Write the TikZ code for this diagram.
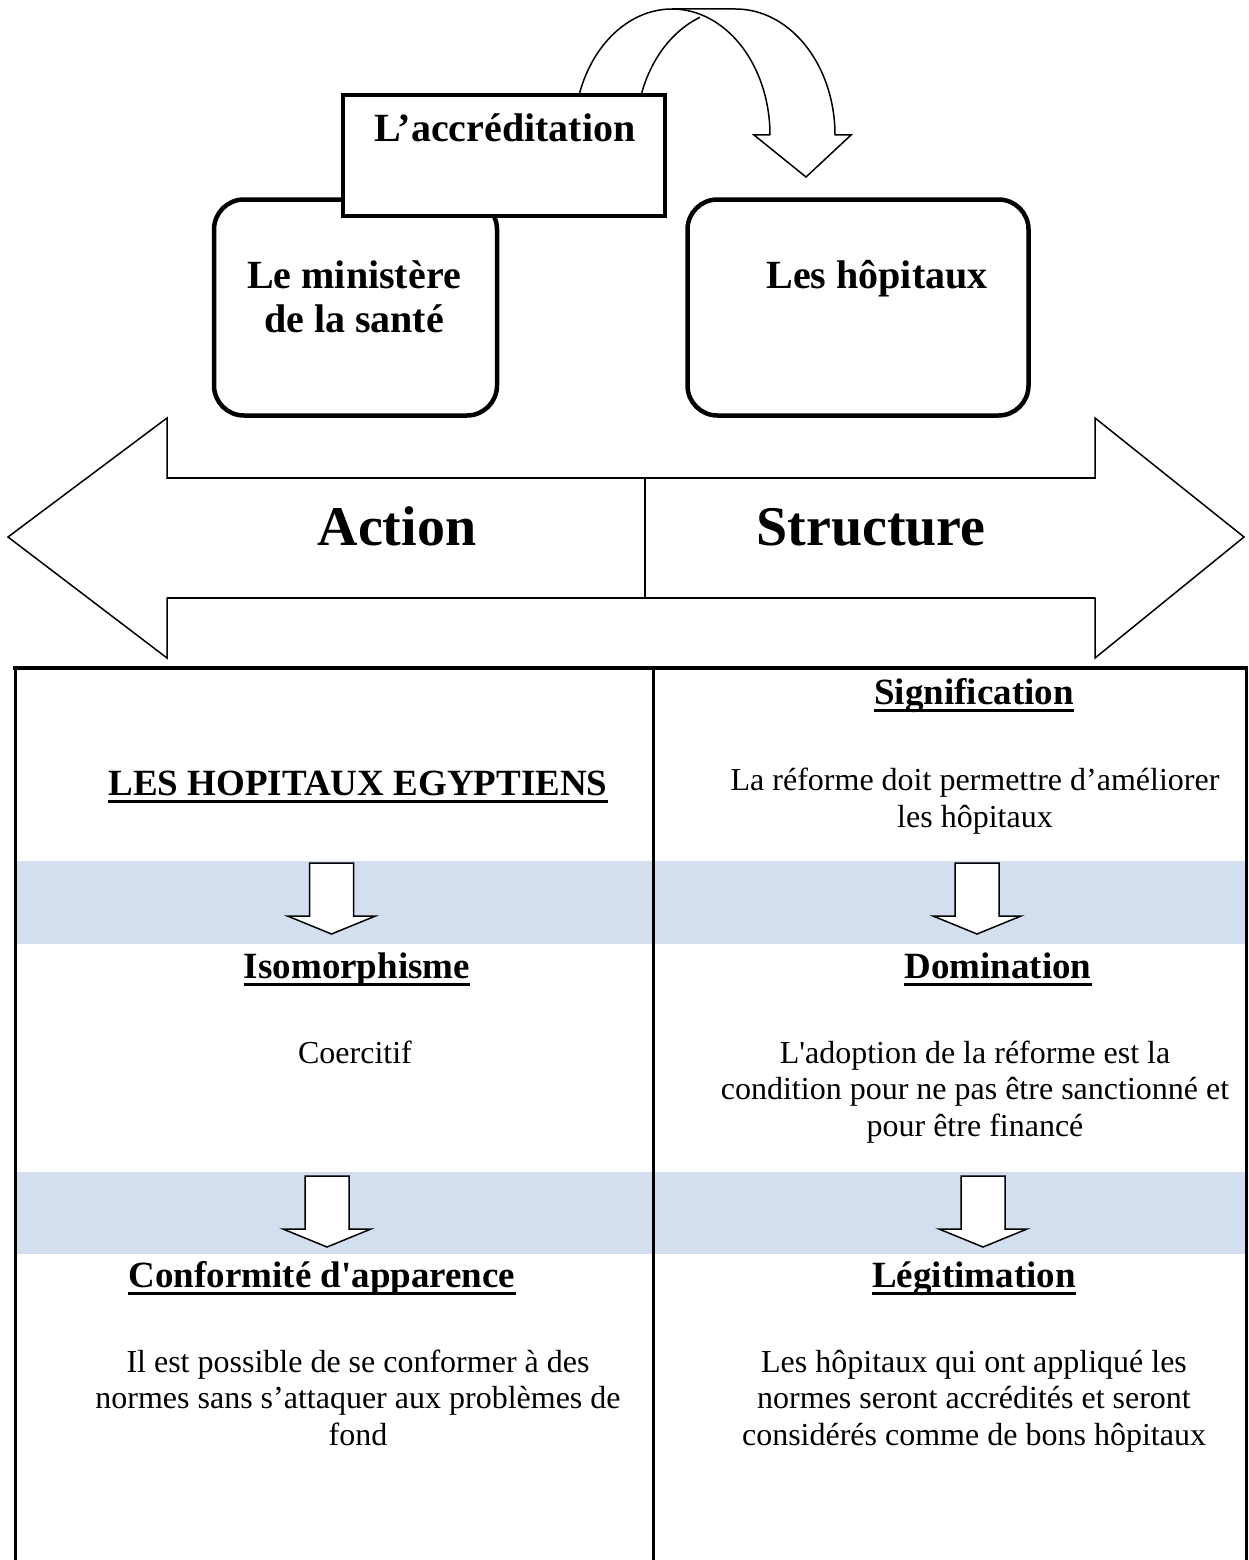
\documentclass[tikz,border=0pt]{standalone}
\usepackage{fontspec}
\setmainfont{Liberation Serif}
\definecolor{bandblue}{RGB}{211,223,238}
\newcommand\blockdown[2]{%
  \draw[blockarrow] (#1-22,#2) -- (#1+22,#2) -- (#1+22,#2+53) -- (#1+44,#2+53) -- (#1,#2+71) -- (#1-44,#2+53) -- (#1-22,#2+53) -- cycle;}
\begin{document}
\begin{tikzpicture}[x=1pt,y=-1pt,
  thinline/.style={line width=1.5pt},
  boxline/.style={line width=4.5pt},
  toplabel/.style={font=\fontsize{40}{44}\selectfont\bfseries, align=center, inner sep=0pt},
  biglabel/.style={font=\fontsize{56}{60}\selectfont\bfseries, inner sep=0pt},
  heading/.style={font=\fontsize{37}{42}\selectfont\bfseries, inner sep=0pt},
  bodytext/.style={font=\fontsize{32}{36.5}\selectfont, align=center, inner sep=0pt},
  blockarrow/.style={draw, fill=white, line width=1.5pt, line join=miter},
  ulined/.style={line width=3pt}
]
\useasboundingbox (0,0) rectangle (1248,1560);
\fill[white] (0,0) rectangle (1248,1560);

% curved arrow (behind the accreditation box)
\draw[thinline] plot[domain=16:180, samples=80] ({672-98*cos(\x)}, {135-126*sin(\x)});
\draw[thinline] plot[domain=16:69, samples=40] ({735.5-99.5*cos(\x)}, {135-126*sin(\x)});
\draw[thinline, line join=miter] (672,9) -- (735.5,9)
  -- plot[domain=90:180, samples=60] ({735.5-99.5*cos(\x)}, {135-126*sin(\x)})
  -- (851,135) -- (806,177) -- (754,135) -- (770,135);

% boxes
\node[draw, boxline, rounded corners=30pt, minimum width=283pt, minimum height=216pt] (minbox) at (355.5,307.5) {};
\node[draw, boxline, rounded corners=30pt, minimum width=341pt, minimum height=216pt] (hopbox) at (858,307.5) {};
\node[draw, line width=4pt, fill=white, minimum width=322pt, minimum height=121pt] (accbox) at (504,155.5) {};

\node[toplabel, anchor=base] (acctext) at (505,142) {L’accréditation};
\node[toplabel, anchor=base] (mintext) at (354,332) {Le ministère\\de la santé};
\node[toplabel, anchor=base] (hoptext) at (877,288) {Les hôpitaux};

% double arrow
\draw[thinline, fill=white, line join=miter] (8,537) -- (167,418) -- (167,478) -- (1095,478) -- (1095,418) -- (1244,537)
  -- (1095,658) -- (1095,598) -- (167,598) -- (167,658) -- cycle;
\draw[line width=2pt] (167,478) -- (1095,478);
\draw[line width=2pt] (167,598) -- (1095,598);
\coordinate (divtop) at (645,478);
\coordinate (divbot) at (645,598);
\draw[thinline] (divtop) -- (divbot);
\node[biglabel, anchor=base] (action) at (397,545) {Action};
\node[biglabel, anchor=base] (structure) at (871,545) {Structure};

% table
\fill[bandblue] (15,861) rectangle (1246,944);
\fill[bandblue] (15,1172) rectangle (1246,1254);
\draw[line width=4pt] (13,668) -- (1247.5,668);
\draw[line width=3pt] (15,666) -- (15,1562);
\draw[line width=3pt] (653,668) -- (653,1562);
\draw[line width=3pt] (1246,666) -- (1246,1562);

\blockdown{331.5}{863}
\blockdown{977}{863}
\blockdown{327}{1176}
\blockdown{983}{1176}

% texts
\node[heading, anchor=base] (lhe) at (358,795) {LES HOPITAUX EGYPTIENS};
\node[heading, anchor=base] (sig) at (974,704) {Signification};
\node[heading, anchor=base] (iso) at (357,978) {Isomorphisme};
\node[heading, anchor=base] (dom) at (998,978) {Domination};
\node[heading, anchor=base] (conf) at (322,1287) {Conformité d\textquotesingle apparence};
\node[heading, anchor=base] (leg) at (974,1287) {Légitimation};
\foreach \n in {lhe,sig,iso,dom,conf,leg}
  \draw[ulined] ([yshift=-6.5pt]\n.base west) -- ([yshift=-6.5pt]\n.base east);

\node[bodytext, anchor=base] (sigtxt) at (975,827) {La réforme doit permettre d’améliorer\\les hôpitaux};
\node[bodytext, anchor=base] (coer) at (355,1063) {Coercitif};
\node[bodytext, anchor=base] (domtxt) at (975,1136) {L\textquotesingle adoption de la réforme est la\\condition pour ne pas être sanctionné et\\pour être financé};
\node[bodytext, anchor=base] (conftxt) at (358,1445) {Il est possible de se conformer à des\\normes sans s’attaquer aux problèmes de\\fond};
\node[bodytext, anchor=base] (legtxt) at (974,1445) {Les hôpitaux qui ont appliqué les\\normes seront accrédités et seront\\considérés comme de bons hôpitaux};
\end{tikzpicture}
\end{document}
